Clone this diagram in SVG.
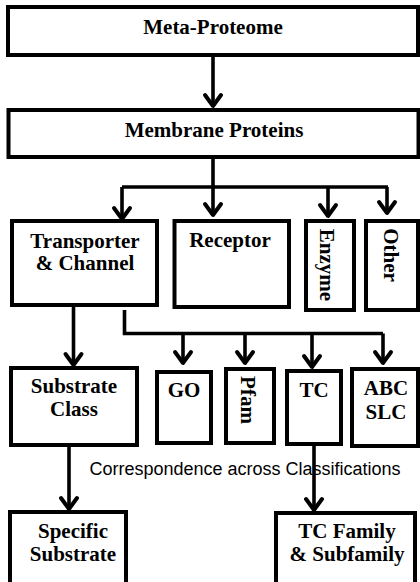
<svg xmlns="http://www.w3.org/2000/svg" width="420" height="582" viewBox="0 0 420 582">
<style>
.box{fill:#fff;stroke:#000;stroke-width:4}
.t{font-family:"Liberation Serif","Times New Roman",serif;font-weight:bold;font-size:21px;fill:#000;text-anchor:middle}
.lbl{font-family:"Liberation Sans",Arial,sans-serif;font-size:18px;fill:#000;text-anchor:middle}
.c{fill:none;stroke:#000;stroke-width:3.6;stroke-linejoin:miter}
.a{marker-end:url(#ah)}
</style>
<defs>
<marker id="ah" markerUnits="userSpaceOnUse" orient="auto" refX="0" refY="0" markerWidth="20" markerHeight="20" overflow="visible">
<path d="M-11,-8 L0,0 L-11,8" fill="none" stroke="#000" stroke-width="4" stroke-linejoin="round" stroke-linecap="round"/>
</marker>
</defs>
<rect width="420" height="582" fill="#fff"/>

<g id="meta-proteome"><rect class="box" x="8" y="7" width="410" height="48"/><text class="t" x="213" y="34">Meta-Proteome</text></g>
<g id="membrane-proteins"><rect class="box" x="8.5" y="110" width="410" height="47"/><text class="t" x="214" y="137">Membrane Proteins</text></g>

<g id="transporter"><rect class="box" x="12" y="221" width="145" height="84"/><text class="t" x="85" y="248">Transporter</text><text class="t" x="85" y="270">&amp; Channel</text></g>
<g id="receptor"><rect class="box" x="174.5" y="221" width="114.5" height="86"/><text class="t" x="230" y="247">Receptor</text></g>
<g id="enzyme"><rect class="box" x="306" y="221" width="48" height="89"/><text class="t" transform="translate(320,265) rotate(90)" x="0" y="0">Enzyme</text></g>
<g id="other"><rect class="box" x="366" y="221" width="52" height="89"/><text class="t" transform="translate(384,255) rotate(90)" x="0" y="0">Other</text></g>

<g id="substrate-class"><rect class="box" x="11" y="368" width="126" height="77"/><text class="t" x="74" y="393">Substrate</text><text class="t" x="74" y="416">Class</text></g>
<g id="go"><rect class="box" x="157" y="372" width="54" height="71"/><text class="t" x="184" y="397">GO</text></g>
<g id="pfam"><rect class="box" x="226" y="369" width="48" height="74"/><text class="t" transform="translate(241,400) rotate(90)" x="0" y="0">Pfam</text></g>
<g id="tc"><rect class="box" x="287" y="371" width="54" height="73"/><text class="t" x="314" y="397">TC</text></g>
<g id="abc-slc"><rect class="box" x="352" y="369" width="66" height="77"/><text class="t" x="386" y="395">ABC</text><text class="t" x="386" y="419">SLC</text></g>

<g id="specific-substrate"><rect class="box" x="10" y="512" width="116" height="80"/><text class="t" x="73" y="538">Specific</text><text class="t" x="73" y="561">Substrate</text></g>
<g id="tc-family"><rect class="box" x="276" y="513" width="139" height="80"/><text class="t" x="347" y="538">TC Family</text><text class="t" x="347" y="561">&amp; Subfamily</text></g>

<text id="correspondence" class="lbl" x="245" y="475">Correspondence across Classifications</text>

<g id="connectors">
<path class="c a" d="M213,55 V106"/>
<path class="c a" d="M213,157 V215"/>
<path class="c" d="M122,187 H388"/>
<path class="c a" d="M122,187 V219"/>
<path class="c a" d="M328,187 V216"/>
<path class="c a" d="M387,187 V213"/>
<path class="c a" d="M73.5,307 V365"/>
<path class="c" d="M124.5,310 V333.5 H383"/>
<path class="c a" d="M183,333.5 V363"/>
<path class="c a" d="M245,333.5 V363"/>
<path class="c a" d="M312,333.5 V367"/>
<path class="c a" d="M383,333.5 V363"/>
<path class="c a" d="M69,445 V509"/>
<path class="c a" d="M314,444 V510"/>
</g>
</svg>
